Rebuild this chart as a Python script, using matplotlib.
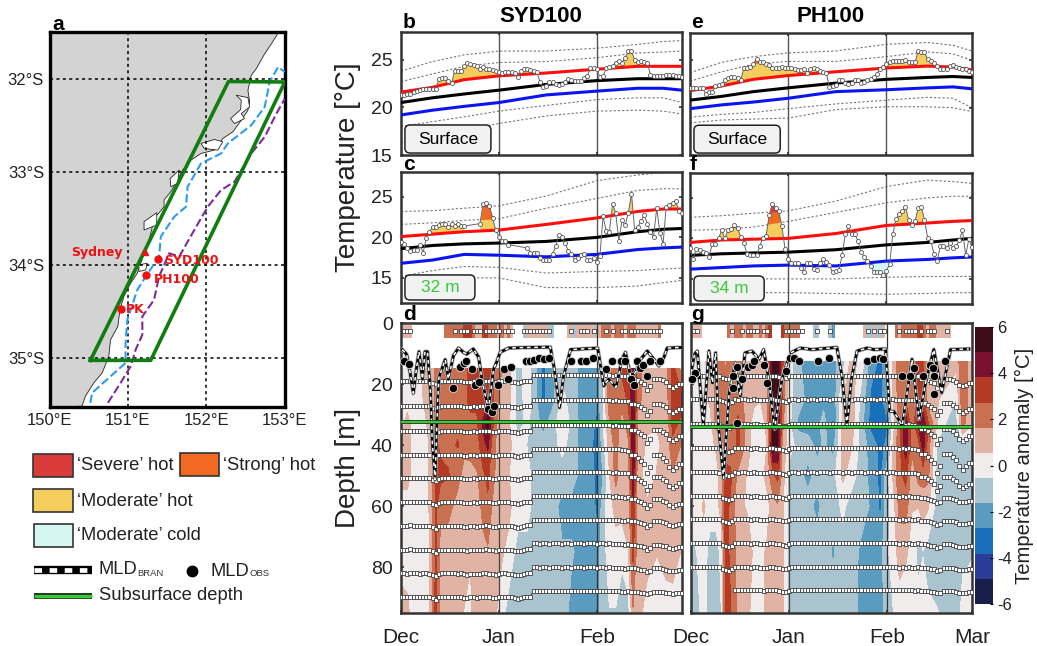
import numpy as np
import matplotlib
matplotlib.use('Agg')
from matplotlib import pyplot as plt
from matplotlib.colors import ListedColormap, BoundaryNorm
from matplotlib.cm import ScalarMappable
from matplotlib.patches import FancyBboxPatch, Rectangle

plt.rcParams['font.family'] = ['Liberation Sans', 'DejaVu Sans']

W, H = 1037, 646
n = np.nan
days = np.arange(90)

# map, lon / lat
coast_lon = [152.918,152.833,152.747,152.64,152.576,152.533,152.555,152.533,152.448,152.341,152.212,152.105,151.934,151.806,151.699,151.635,151.549,151.463,151.463,151.356,151.314,151.271,151.228,151.164,151.121,151.036,150.95,150.899,150.873,150.779,150.757,150.672,150.565,150.458,150.415]
coast_lat = [-31.512,-31.626,-31.733,-31.893,-31.964,-32.125,-32.25,-32.339,-32.446,-32.57,-32.642,-32.766,-32.802,-32.873,-32.98,-33.087,-33.212,-33.301,-33.373,-33.48,-33.586,-33.729,-33.836,-33.979,-34.086,-34.193,-34.335,-34.478,-34.656,-34.799,-34.977,-35.155,-35.262,-35.405,-35.512]
inlets = [
    ([152.383,152.533,152.555,152.448,152.49,152.362,152.311,152.44,152.448], [-32.178,-32.203,-32.303,-32.374,-32.428,-32.481,-32.428,-32.332,-32.232]),
    ([151.934,152.105,152.212,152.148,151.977], [-32.695,-32.652,-32.677,-32.766,-32.749]),
    ([151.207,151.369,151.369,151.207], [-33.533,-33.437,-33.569,-33.622]),
    ([151.54,151.656,151.635,151.549], [-33.07,-32.98,-33.123,-33.159]),
    ([151.142,151.249,151.228,151.142], [-33.996,-33.979,-34.05,-34.068]),
]
iso_blue_lon = [150.522,150.543,150.779,150.971,150.971,150.993,151.121,151.228,151.399,151.421,151.592,151.742,151.763,151.934,152.191,152.276,152.576,152.747,152.811,152.918,153.004]
iso_blue_lat = [-35.476,-35.369,-35.191,-35.048,-34.834,-34.585,-34.264,-34.121,-33.907,-33.693,-33.48,-33.373,-33.159,-32.909,-32.802,-32.695,-32.499,-32.303,-32.036,-31.875,-31.929]
iso_purple_lon = [150.745,150.907,151.036,151.1,151.185,151.185,151.335,151.399,151.528,151.656,151.849,152.02,152.191,152.362,152.576,152.747,152.897,153.004]
iso_purple_lat = [-35.476,-35.262,-35.084,-34.905,-34.745,-34.549,-34.371,-34.121,-33.872,-33.907,-33.622,-33.373,-33.194,-33.105,-32.802,-32.624,-32.374,-32.214]
box_lon = [150.522,151.292,153.004,152.285,150.522]
box_lat = [-35.02,-35.02,-32.036,-32.03,-35.02]

# time series: knot days for climatology and threshold curves
knots = [0,10,20,31,46,62,75,83,89]

red_b = [21.6,22.1,22.9,23.3,23.6,24.0,24.3,24.3,24.3]
black_b = [20.5,21.0,21.4,21.8,22.4,22.8,23.0,23.0,23.0]
blue_b = [19.2,19.7,20.1,20.5,21.3,21.7,22.0,22.0,21.8]
upper_b = [[22.7,23.5,24.3,24.7,24.8,25.2,25.7,25.8,25.9], [23.8,24.8,25.5,25.9,25.9,26.2,26.6,26.9,27.0]]
lower_b = [[18.0,18.5,19.0,19.6,20.2,20.8,21.0,21.0,20.5], [16.3,17.0,17.6,18.3,19.1,19.6,19.7,19.6,19.3]]
obs_b = [21.3,21.3,21.4,21.4,21.6,21.7,21.8,21.9,21.9,21.9,
         21.9,21.9,23.0,23.1,23.1,22.8,22.5,23.8,23.8,23.8,
         24.3,24.6,24.5,24.4,24.3,24.0,24.2,24.0,24.0,23.9,
         23.8,23.7,23.6,23.7,23.7,23.7,23.6,23.2,23.8,24.0,
         24.0,23.9,23.8,23.7,22.7,22.1,22.2,22.7,22.7,22.4,
         22.3,22.4,22.7,23.0,22.9,22.8,22.8,22.8,23.1,23.3,
         24.1,24.1,24.0,23.2,23.3,24.1,24.2,24.3,24.7,24.9,
         24.7,25.2,25.9,25.9,25.0,24.8,24.9,24.8,24.7,23.4,
         23.3,23.3,23.3,23.3,23.4,23.4,23.4,23.3,23.3,23.2]

red_c = [20.1,20.4,20.7,20.9,21.6,22.4,23.2,23.5,23.5]
black_c = [18.6,19.0,19.2,19.3,19.5,20.0,20.7,21.0,21.1]
blue_c = [16.8,17.2,17.9,17.8,17.6,17.9,18.5,18.7,18.8]
upper_c = [[21.6,21.8,22.1,22.3,23.6,24.8,25.8,26.0,26.0], [23.2,23.3,23.6,23.9,25.1,27.0,27.7,28.0,28.0]]
lower_c = [[15.2,15.9,16.4,16.3,15.6,15.8,15.9,16.1,16.2], [15.0,15.0,15.0,15.0,13.8,13.8,14.0,14.4,14.7]]
obs_c = [19.4,19.2,18.7,18.3,18.4,18.5,19.1,18.1,19.9,20.7,
         21.3,21.3,21.5,21.6,21.6,21.3,21.6,21.4,21.6,21.4,
         21.4,n,n,n,n,21.7,24.1,24.2,23.9,22.4,
         20.9,20.1,19.5,19.6,19.1,n,n,n,n,n,
         18.7,18.1,18.1,18.1,17.4,17.2,17.2,17.2,17.9,18.9,
         20.3,20.1,19.3,18.3,17.9,17.2,17.5,17.8,17.9,17.2,
         17.2,17.5,17.0,17.7,22.6,20.8,20.7,24.1,23.0,19.6,
         22.1,21.5,23.0,25.4,20.9,21.3,22.0,22.8,21.7,20.7,
         20.1,23.6,20.6,19.2,23.8,24.0,24.3,24.5,23.2,23.0]

red_e = [21.8,22.3,23.0,23.4,23.8,24.2,24.4,24.3,24.0]
black_e = [20.8,21.2,21.7,22.1,22.6,23.0,23.2,23.3,23.2]
blue_e = [19.9,20.3,20.6,21.0,21.7,21.9,22.1,22.2,22.0]
upper_e = [[22.8,23.8,24.6,24.9,24.9,25.4,25.9,25.7,25.0], [23.7,24.8,25.4,25.8,26.0,26.7,26.9,26.6,26.0]]
lower_e = [[19.0,19.3,19.5,19.9,20.4,20.8,21.1,21.0,20.0], [18.4,18.7,18.8,18.9,19.8,20.1,20.1,20.0,19.6]]
obs_e = [22.1,22.1,22.1,22.1,22.1,21.4,21.7,21.7,22.3,22.4,
         22.5,22.9,23.1,23.3,23.2,23.1,22.9,24.2,24.2,24.3,
         24.6,25.2,24.8,24.8,24.6,24.5,24.2,24.2,24.2,24.3,
         24.2,24.2,24.2,24.1,24.0,24.0,24.1,23.7,24.1,24.2,
         24.1,23.9,23.8,23.7,22.2,22.3,22.4,22.9,22.9,22.6,
         22.5,22.6,22.9,22.9,22.6,22.7,22.9,23.0,23.2,23.6,
         24.1,24.3,24.6,24.8,24.9,24.9,24.9,24.9,25.0,24.8,
         24.8,24.8,26.0,25.9,25.9,25.1,24.9,24.7,24.4,24.1,
         24.1,24.1,24.4,24.5,24.3,24.2,24.1,24.1,23.9,23.8]

red_f = [19.5,19.8,19.9,20.0,20.6,21.6,21.9,22.1,22.2]
black_f = [17.9,18.1,18.2,18.3,18.6,19.2,19.5,19.8,20.0]
blue_f = [16.2,16.4,16.6,16.7,16.6,17.2,17.4,17.6,17.7]
upper_f = [[21.0,21.1,21.4,22.1,23.2,24.4,25.0,25.2,25.2], [22.6,22.8,23.1,23.4,24.6,26.4,27.2,27.0,26.8]]
lower_f = [[15.1,15.1,15.0,15.0,15.0,15.2,15.3,15.3,15.3], [13.4,13.3,13.3,13.3,13.2,13.1,13.2,13.3,13.3]]
obs_f = [18.8,17.4,18.7,18.6,18.3,18.2,17.7,19.3,19.3,20.0,
         21.0,20.0,21.0,21.1,21.6,21.3,20.2,19.4,18.1,18.0,
         18.0,17.9,19.0,20.1,20.3,22.9,24.3,23.7,23.4,21.5,
         18.7,17.5,17.0,17.0,16.9,16.3,15.8,17.0,17.0,16.2,
         16.1,16.9,17.4,17.1,16.7,15.8,16.0,16.1,17.9,20.5,
         21.5,20.6,20.5,19.7,18.3,17.7,17.2,16.6,15.9,15.9,
         15.8,15.5,16.0,16.8,20.5,22.4,23.0,23.4,23.9,22.3,
         21.6,22.1,23.7,23.9,22.3,20.1,19.7,18.1,17.2,19.0,
         19.1,18.8,19.4,18.8,19.0,19.8,21.0,17.9,19.9,18.9]
cold_f = (56, 64)

# depth sections
anom_days = [0,2,4,6,8,9.5,11,12.5,15,18,20,22,24,26,27.5,29,31,34,37,40,42,45,48,51,54,57,60,62,64,66,68,70,72,73.5,75,78,81,84,86,89]
anom_d = np.array([
    [0,0,0,1,1,0,0,1],[0,0,1,1,1,0,0,0.8],[0,0,0,0,0,0,0,0],[0.3,0.3,0,0,0,0,0,0],
    [1,0.8,0.5,0,0,0,0,0],[1,1,1,1,1,1,0.7,0.7],[2,2,2,3,3,3,3,3.2],[2,2,2.2,2.5,3,2,1.2,1.2],
    [2,2,2.2,2.5,2.8,2,1,1],[2.2,2.2,2.5,2.8,2,1.2,1,1],[2.5,2.5,2,2,1.2,1,1,0.5],[3,3,2.5,2.2,1.1,1,0.6,0.4],
    [3,3,2.5,2.2,1.5,1,1,1],[3,3,4,3.5,2.5,2,1.3,1],[3.5,3.5,5.5,4,3,2.5,1.5,1],[3,3,3,2.2,2,1.5,1,1],
    [2,1.5,1,1,1,1,0.8,0.3],[1,1,0.8,0.8,0.6,0.8,0.3,-1],[-1,-1.2,-1,0,0,0,-1,-1],[0,0,-0.3,-0.6,0,0,-1,-1],
    [-1,-1,-1,-1,-1,-1,-1,-1],[-3,-3,-2,-1.2,-1,-1,-1,-1],[-2,-2,-1.1,-1,-1,-1.2,-1,-1],[-1,-0.2,0.3,-0.2,-1.1,-2,-1.5,-1],
    [-1,-1,-0.8,-1,-1.1,-2,-1.5,-2],[-2,-2,-2,-2,-2,-2,-2,-2],[-2,-2,-2.2,-2.5,-2,-2,-2,-2],[-2,-2.5,-3,-3.2,-3.2,-3,-2.2,-2.2],
    [-1,-0.7,-0.5,-1,-1.5,-1,-1,-1],[2.5,2.5,1.5,1,0.5,0,0,-0.6],[2.5,2.4,2.2,2,2,1,0,-0.6],[3,2,1.2,1,1,1,-0.3,-1.1],
    [3,3,2,1.5,1.2,1,0.5,-1],[4.5,4.5,4.5,4.5,4.5,3.5,3,1.5],[2,2,1.2,1.3,1,1.2,1,1],[1.2,1,0.8,0.3,0,0.7,1,0],
    [1,1,0.6,0.4,0.6,1,0.6,-0.3],[1.2,1.1,0.6,0.8,1,1,1,0],[3.2,3,3,2.5,1.5,1,0.8,0.3],[1,3,2.5,1.5,1,1,0.5,0]]).T
anom_g = np.array([
    [0,0,0,0,0,0,-1,-1],[0,0,0,0,0,0,-0.5,-0.8],[0.3,0,0,0,0,0.7,0,-0.2],[1,0.8,0,0,0,0,-1,-1],
    [2,2,2,0.8,0,0,-1,-1],[2,2,2,1.2,1,1,-0.3,-0.6],[1.5,2,2,2,3.2,3.2,3.2,3.2],[2,2,2,2,3,2.5,2.5,2.8],
    [2.2,2.2,3,3,1.2,0.8,1.2,1.2],[1,1,1,1,0.4,0.4,1.1,0.8],[1,0.8,0,0,0,0,0.3,0],[1,0.6,0,0,0,0,0.2,0],
    [2,1.1,0.8,0.5,1,0,0.7,0.8],[5.5,5,5,5.5,2.5,1.2,1,1],[5.5,5,5,5,3,1.5,1,1],[3,2.5,2,1.2,1.1,0.8,0.8,0.7],
    [0,-0.3,-0.2,0,-1,-1,-1,-1],[-1.5,-1,-2,-1,-1.2,-1,-1,-1],[-2,-2,-2.2,-1.1,-2,-1.2,-1,-1],[-2,-2,-2,-2,-1.2,-2,-1,-1],
    [-2,-2,-1.2,-1.5,-1,-1.2,-1,-1],[-2,-2.5,-3,-2,-1,-1.2,-1.8,-1],[-1.1,0.5,0.8,0.8,0.8,-0.3,-1,-1],[1,1,1,0.6,-0.2,-1,-1,-1.1],
    [0,-1,-1.2,-1.2,-1,-1,-2,-2],[-2.2,-3,-3.2,-2,-2,-1.8,-2,-2.2],[-3,-3.2,-3.2,-3.2,-3,-3,-2,-2.2],[-2,-2,-3,-2.5,-1.1,-1,-0.8,-1.1],
    [1,0.6,0,0.6,0.7,0,0,-0.6],[2.2,2.2,2.2,2.5,2.5,2,1,0],[2.2,2.5,4.5,4.5,3,2.2,0.7,0],[2,2,2,2,1,0.6,0.2,0],
    [3,3,4,2.2,2,0.6,-1,0],[3,3,4.5,4.5,2,1.1,-0.6,0],[1,1,3,2.2,2,0.7,-1,-0.3],[0.8,0.6,0.5,-0.8,-1,-1,-1,-0.5],
    [1,0.3,-0.7,-1,-1,-0.8,-1,-0.8],[1,-0.6,-1,-1,-1,-1,-1,-1],[2.5,2.5,2,-1,-1,-1,-0.7,-0.3],[1,1,0.6,-1,-1,-1,-0.6,-0.2]]).T
depths_d = [14.8,25,33,40,50,60,75,95]
depths_g = [12.5,25,33,40,50,60,75,95]

surf_d = [1,1,1,1]+[n]*10+[2]*6+[3,3,3,2,1,1,3,3,2,2,2,1,2,1,2,1,n,n,n,-1]+[1]*7+[-1,-1]+[n]*4+[.7,.7,-1,.7,.7,1,.7,.7,1,-1,.7,2,2,2,1,2,2,2,1,2,2,2,1,1,1,1,1,1,1,2]+[n]*7
surf_g = [.7,.7,.7,1]+[n]*8+[2,1,2,2,2,1,2,2,1,1,2,1,2,3,n,n,n,3,2,2,2,2,2,n,n,n,n,-1,-1,n,n,n,-1,-2]+[n]*9+[.7,-1,-1,.7,-1,-1,.7,n,n,n,2,1,2,2,2,2,2,3,3,2,1,2,2,1,1,1,1,1]+[n]*7
surf_obs_d = [1,2,3,17,19,20,21,23,24,25,27,28,29,30,31,33,34,35,39,40,41,42,43,44,45,46,47,54,57,58,59,61,65,67,70,71,73,74,75,76,77,78,79,80,81,82]
surf_obs_g = [1,2,13,16,18,19,20,21,23,24,30,31,32,33,34,35,40,44,56,58,60,61,66,68,69,70,71,73,75,76,77,81]

# model levels with squares, and how they shift through the season
levels_d = [17,25.2,33.4,41.2,48.8,56.7,64.4,72.2,80,87.7]
amp_d = [1.2,1.2,1.5,2,1.5,1,0.6,0.5,0.4,0.3]
shift_d = [2,2,2.1,1.9,2,2,2.1,2,2,2.1,2.5,3,2.2,2,2,2,2,2,2.1,2,2.3,2.4,2.2,2.1,2.3,2.1,2,1.9,2.1,2.3,2.4,2.1,2,2,2.1,2.2,2.4,2.6,2.4,2.1,1.9,1.9,
           0,0,.1,0,0,.1,0,0,0,.1,0,0,.1,0,0,0,.1,0,0,0,.1,0,0,.1,0,.2,.1,.2,.3,.5]+[0]*18
levels_g = [17.2,25,33.1,41,48.9,56.7,64.2,72.1,79.9,87.4]
amp_g = [1,1.3,1.6,2,1.5,0.6,0.5,0.4,0.3,0.3]
shift_g = [0,0,0,0,0,0,0,0,0,.1,.7,1,1.2,.8,0,.1,0,0,.1,.2,0,.1,.2,.3,.2,0,0,.2,.4,.6,.8,.3,0,0,.1,0,0,.1,0,0,.1,0,0,0,.1,0,0,0,.1,0,0,.1,0,0,0,.1,0,0,0,.1,0,0,.1,0,0,.1,.2,.1,.2,.1,.2,.3]+[0]*18
late = [0]*72+[.3,1,1,1.5,2,2.5,4,3,1,1,1,1.5,2,3,3.5,3,2.5,2.5]

# mixed layer depth
mld_d_day = [0.4,1.8,2.9,3.9,5,5.7,6.8,7.6,8.4,9.4,9.9,10.8,11.6,12,14,15,16.6,18.2,19.8,20.8,22.9,24.6,25.8,27.7,29.3,30.4,31.4,34.1,40.4,47.3,48.4,50.2,51.5,53.7,57.4,62.3,63.2,64.2,65.8,68.1,70,71.1,72.7,74.3,75.9,78,80.1,81.7,83.3,84.3,89.1]
mld_d_dep = [8.7,10.3,16.3,23,14.1,9.4,18.4,9.4,9.4,23.9,39,51.4,26,17.9,12,18.4,10.7,8.2,9.6,10.2,8.5,11.2,19.6,28.2,15.2,12.5,9.6,8.2,8,7.9,14.1,27.7,17.3,8.7,8.5,8.2,14.1,20.6,18.4,21.1,11.9,9.6,17.3,16.2,11.9,9.2,11.9,14.1,11.2,8.2,8]
mld_g_day = [0,1.1,2,3.9,5.7,6.8,7.8,8.7,10.3,11.3,12.1,14,15.6,17.1,19.3,21.6,23,24.6,26.5,28.8,30.4,31.9,34.6,38.3,46.2,47.8,49.4,50.8,52.6,55.8,57.9,61.6,62.9,64.2,66.9,70,72.2,74.3,76.9,79.4,82.2,88]
mld_g_dep = [16.3,10.3,9.2,33.6,9.2,19.6,9.8,33.6,50.9,34.7,22.8,13,23.9,9.8,9.2,11.9,8.7,18.4,34.7,18.4,13,9.6,8.2,8.7,8,17.3,33.6,18.4,9.2,8.2,8.7,8.5,28.9,28.9,33.6,11.9,31.5,19.6,8.7,22.8,8.7,8.5]
dots_d_day = [1.1,2.5,16.6,18.7,19.8,20.6,22.6,23.5,24.8,27.5,28.8,29.6,30.7,32.7,33.8,34.8,39.6,41,42.2,43.6,45.2,46.8,53.9,57.1,58.6,60.7,64.8,66.9,69.7,70.9,72.8,73.8,74.8,75.7,76.6,78,78.8,81.9]
dots_d_dep = [12.3,13.4,21.2,14.4,13.1,12.5,15.2,20.3,19.4,28.2,29.3,27.1,20.3,15.2,18.3,14.4,12.5,12.3,12,11.5,11.8,11.5,12.3,12.3,12.3,11.5,15.2,12.3,12.3,12.3,18.3,20.3,12.3,14.7,13.6,17.4,12.3,12.3]
dots_g_day = [1.3,0.4,14.5,13.4,16.1,13.2,14.7,18.2,19.3,20.1,23.2,24.2,30.1,31.4,32.5,34.1,40.1,43.8,55.8,57.9,60,60.8,66.9,69.5,70.6,73.5,75.7,76.7,76.9,77.1,80.6]
dots_g_dep = [16.5,18.5,14.4,17.4,18.5,21.4,32.6,14.4,13.6,12.5,13.6,19.6,15.6,11.5,11.5,12.5,12.5,11.5,12.5,11.7,11.5,11.7,17.4,17.4,14.7,17.4,13.6,14.7,17.4,23.4,12.5]
sub_depth_d = 32.3
sub_depth_g = 34

anom_levels = np.linspace(-6, 6, 12)
anom_colors = ['#1a1e4a','#2a3c96','#1a6fbb','#5a9cbf','#a9c4cf','#efeceb','#e0b3a4','#c97050','#b53a24','#7a1030','#3f0d19']
C_SEVERE, C_STRONG, C_MOD, C_COLD = '#d93a3a', '#f26a21', '#f5cd5d', '#d5f7f2'
GREEN = '#33cc33'
EDGE = '#333333'


def px_axes(fig, left, top, right, bottom):
    return fig.add_axes([left/W, 1-bottom/H, (right-left)/W, (bottom-top)/H])


def time_panel(ax, red, black, blue, upper, lower, obs, ylim, label, label_color, box, left_labels, cold=None):
    obs = np.array(obs, dtype=float)
    red_i = np.interp(days, knots, red)
    blue_i = np.interp(days, knots, blue)
    ok = np.isfinite(obs)
    ax.fill_between(days, red_i, obs, where=ok & (obs >= red_i), interpolate=True, color=C_MOD, lw=0, zorder=2)
    for curve, col in zip(upper, [C_STRONG, C_SEVERE]):
        cur = np.interp(days, knots, curve)
        ax.fill_between(days, cur, obs, where=ok & (obs >= cur), interpolate=True, color=col, lw=0, zorder=2)
    if cold is not None:
        m = (days >= cold[0]) & (days <= cold[1])
        ax.fill_between(days[m], blue_i[m], obs[m], where=obs[m] <= blue_i[m], interpolate=True, color=C_COLD, lw=0, zorder=2)
    for curve in upper + lower:
        ax.plot(knots, curve, color='#777777', lw=0.8, ls=(0, (2, 1.8)), zorder=1)
    ax.plot(knots, red, color='#ff0d0d', lw=2.2, zorder=3)
    ax.plot(knots, black, color='k', lw=2.2, zorder=3)
    ax.plot(knots, blue, color='#0a14f0', lw=2.2, zorder=3)
    ax.plot(days[ok], obs[ok], color='#666666', lw=0.7, zorder=4)
    ax.plot(days, obs, ls='none', marker='o', ms=2.9, mfc='white', mec='#555555', mew=0.6, zorder=5)
    ax.axvline(31, color='#555555', lw=1, zorder=1)
    ax.axvline(62, color='#555555', lw=1, zorder=1)
    ax.set_xlim(0, 89)
    ax.set_ylim(*ylim)
    ax.set_xticks([31, 62])
    ax.set_xticklabels([])
    ax.set_yticks([15, 20, 25])
    ax.tick_params(axis='both', direction='in', length=2.5, width=1.2, top=True, right=True, color=EDGE)
    ax.tick_params(axis='y', labelsize=14, pad=6, labelleft=left_labels, labelcolor='#222222')
    for s in ax.spines.values():
        s.set_linewidth(1.8)
        s.set_color(EDGE)
    x0, y0, w, h = box
    size = ax.get_position().width*W/(ax.get_position().height*H)
    ax.add_patch(FancyBboxPatch((x0, y0), w, h, boxstyle='round,pad=0,rounding_size=0.018', mutation_aspect=size,
                                transform=ax.transAxes, fc='#f2f2f2', ec='#222222', lw=1.1, zorder=6))
    ax.text(x0+w/2, y0+h/2, label, transform=ax.transAxes, ha='center', va='center', fontsize=12.5, color=label_color, zorder=7)


def depth_panel(ax, depths, anom, surf, surf_obs, levels, amp, shift, last_start, mld_day, mld_dep, dot_day, dot_dep, sub_depth, labels, ticks, left_labels):
    ax.contourf(anom_days, depths, anom, levels=anom_levels, colors=anom_colors, zorder=1)
    edges = np.arange(91)-0.5
    mesh = np.ma.masked_invalid([surf])
    ax.pcolormesh(edges, [0.5, 5], mesh, cmap=ListedColormap(anom_colors), norm=BoundaryNorm(anom_levels, 11), zorder=1)
    ax.plot(surf_obs, [2.5]*len(surf_obs), ls='none', marker='s', ms=2.5, mfc='white', mec='#333333', mew=0.55, zorder=3)
    ax.axvline(31, color='#444444', lw=0.9, zorder=2)
    ax.axvline(62, color='#333333', lw=0.9, zorder=2)
    shift = np.array(shift, dtype=float)
    wig = np.array(late, dtype=float)
    for i, lev in enumerate(levels):
        y = lev + shift + amp[i]*wig
        if i == len(levels)-1:
            y[:last_start] = n
        early = days <= 71
        if i >= 6:
            early = days <= 89
        ax.plot(days[early], y[early], color='#333333', lw=0.7, zorder=3)
        ax.plot(days, y, ls='none', marker='s', ms=2.5, mfc='white', mec='#333333', mew=0.55, zorder=3)
    ax.plot(mld_day, mld_dep, color='#aaaaaa', lw=3, zorder=4)
    ax.plot(mld_day, mld_dep, color='k', lw=1.9, zorder=4)
    ax.plot(mld_day, mld_dep, color='white', lw=1.1, ls=(0, (2.4, 2.4)), zorder=4)
    ax.plot(dot_day, dot_dep, ls='none', marker='o', ms=6, mfc='k', mec='#dddddd', mew=0.6, zorder=5, clip_on=False)
    ax.axhline(sub_depth, color='#222222', lw=2.8, zorder=4)
    ax.axhline(sub_depth, color=GREEN, lw=1.7, zorder=4)
    ax.set_xlim(0, 89)
    ax.set_ylim(95, 0.5)
    ax.set_xticks(ticks)
    ax.set_xticklabels(labels, fontsize=15, color='#222222')
    ax.set_yticks([0, 20, 40, 60, 80])
    ax.tick_params(axis='both', direction='in', length=2.5, width=1.2, color=EDGE)
    ax.tick_params(axis='x', pad=10.5)
    ax.tick_params(axis='y', labelsize=14, pad=6, labelleft=left_labels, labelcolor='#222222')
    for s in ax.spines.values():
        s.set_linewidth(1.8)
        s.set_color(EDGE)


fig = plt.figure(figsize=(W/100, H/100), dpi=100, facecolor='white')

# a: map
ax = px_axes(fig, 49.5, 32, 284.5, 407)
ax.fill(coast_lon+[150, 150], coast_lat+[-35.52, -31.5], fc='#d3d3d3', ec='#222222', lw=0.6, zorder=1)
for lon, lat in inlets:
    ax.fill(lon, lat, fc='white', ec='#222222', lw=0.6, zorder=1)
ax.plot(iso_blue_lon, iso_blue_lat, color='#2f9bf0', lw=1.5, ls=(0, (4, 1.6)), zorder=3)
ax.plot(iso_purple_lon, iso_purple_lat, color='#7b2d9e', lw=1.5, ls=(0, (4, 1.6)), zorder=3)
ax.plot(box_lon, box_lat, color='#0f7d0f', lw=2.6, zorder=4)
ax.plot([151.39, 151.237, 150.916], [-33.93, -34.11, -34.467], ls='none', marker='o', ms=5, color='#ee1111', zorder=5)
ax.plot([151.215], [-33.861], ls='none', marker='^', ms=5, color='#ee1111', zorder=5)
for lon, lat, name in [(150.27, -33.86, 'Sydney'), (151.46, -33.95, 'SYD100'), (151.33, -34.15, 'PH100'), (150.97, -34.48, 'PK')]:
    ax.text(lon, lat, name, color='#ee1111', fontsize=9, fontweight='bold', family='DejaVu Sans', va='center', zorder=6)
ax.set_xlim(150, 153)
ax.set_ylim(-35.52, -31.5)
ax.set_xticks([150, 151, 152, 153])
ax.set_xticklabels(['150°E', '151°E', '152°E', '153°E'], fontsize=12, color='#222222')
ax.set_yticks([-35, -34, -33, -32])
ax.set_yticklabels(['35°S', '34°S', '33°S', '32°S'], fontsize=12, color='#222222')
ax.grid(True, color='k', lw=1.1, ls=(0, (2, 2.2)), zorder=2)
ax.set_axisbelow(False)
ax.tick_params(length=0, pad=4)
for s in ax.spines.values():
    s.set_linewidth(2.4)

# b, c, e, f
box_top = (0.014, 0.016, 0.306, 0.228)
box_sub = (0.014, 0.023, 0.249, 0.191)
time_panel(px_axes(fig, 401, 32, 682, 155), red_b, black_b, blue_b, upper_b, lower_b, obs_b, (15.2, 27.9), 'Surface', 'k', box_top, True)
time_panel(px_axes(fig, 401, 172, 682, 303), red_c, black_c, blue_c, upper_c, lower_c, obs_c, (11.9, 28.07), '32 m', GREEN, box_sub, True)
time_panel(px_axes(fig, 690, 33, 972, 155), red_e, black_e, blue_e, upper_e, lower_e, obs_e, (15.2, 27.9), 'Surface', 'k', box_top, False)
time_panel(px_axes(fig, 690, 173, 972, 304), red_f, black_f, blue_f, upper_f, lower_f, obs_f, (11.9, 28.07), '34 m', GREEN, box_sub, False, cold=cold_f)

# d, g
depth_panel(px_axes(fig, 401, 323, 682, 613), depths_d, anom_d, surf_d, surf_obs_d, levels_d, amp_d, shift_d, 0,
            mld_d_day, mld_d_dep, dots_d_day, dots_d_dep, sub_depth_d, ['Dec', 'Jan', 'Feb'], [0, 31, 62], True)
depth_panel(px_axes(fig, 691, 323, 972, 613), depths_g, anom_g, surf_g, surf_obs_g, levels_g, amp_g, shift_g, 14,
            mld_g_day, mld_g_dep, dots_g_day, dots_g_dep, sub_depth_g, ['Dec', 'Jan', 'Feb', 'Mar'], [0, 31, 62, 89], False)

# colour bar
cax = px_axes(fig, 975, 327, 993, 604)
cb = fig.colorbar(ScalarMappable(norm=BoundaryNorm(anom_levels, 11), cmap=ListedColormap(anom_colors)), cax=cax, spacing='proportional')
cb.set_ticks([-6, -4, -2, 0, 2, 4, 6])
cb.set_ticklabels(['-6', '-4', '-2', '0', '2', '4', '6'])
cb.minorticks_off()
cb.ax.tick_params(labelsize=12, length=2, width=0.8, pad=3, direction='in', labelcolor='#222222')
cb.outline.set_visible(False)

# figure level text and legend, in a full size overlay
ov = fig.add_axes([0, 0, 1, 1], facecolor='none')
ov.set_xlim(0, W)
ov.set_ylim(H, 0)
ov.axis('off')
for x, y, s in [(58, 24, 'a'), (409, 22, 'b'), (409, 165, 'c'), (409, 314, 'd'), (697, 22, 'e'), (693, 165, 'f'), (697, 314, 'g')]:
    ov.text(x, y, s, fontsize=15, fontweight='bold', ha='center', va='center')
ov.text(541, 16, 'SYD100', fontsize=16, fontweight='bold', ha='center', va='center')
ov.text(831, 16, 'PH100', fontsize=16, fontweight='bold', ha='center', va='center')
ov.text(348, 167, 'Temperature [°C]', fontsize=20, rotation=90, ha='center', va='center', color='#222222')
ov.text(348, 468, 'Depth [m]', fontsize=20, rotation=90, ha='center', va='center', color='#222222')
ov.text(1024, 466, 'Temperature anomaly [°C]', fontsize=14.6, rotation=90, ha='center', va='center', color='#222222')

for x, y, w, h, col in [(33, 454, 40, 23, C_SEVERE), (180, 453, 39, 23, C_STRONG), (33, 489, 40, 23, C_MOD), (34, 524, 39, 23, C_COLD)]:
    ov.add_patch(Rectangle((x, y), w, h, fc=col, ec='#333333', lw=1.2))
for x, y, s in [(77, 465, '‘Severe’ hot'), (223, 466, '‘Strong’ hot'), (77, 502, '‘Moderate’ hot'), (77, 535, '‘Moderate’ cold'),
                (98, 570, 'MLD'), (211, 571, 'MLD'), (99, 596, 'Subsurface depth')]:
    ov.text(x, y, s, fontsize=13.2, va='center', color='#222222')
ov.text(137, 573, 'BRAN', fontsize=6.8, va='center', color='#333333')
ov.text(250, 574, 'OBS', fontsize=6.8, va='center', color='#333333')
ov.plot([34, 92], [570, 570], color='k', lw=6, solid_capstyle='butt')
ov.plot([34, 92], [570, 570], color='white', lw=3.4, ls=(0, (1.6, 1.6)))
ov.plot([192], [571], marker='o', ms=7.5, color='k')
ov.plot([34, 92], [596, 596], color='#222222', lw=4.2, solid_capstyle='butt')
ov.plot([34, 92], [596, 596], color=GREEN, lw=2.4, solid_capstyle='butt')

fig.savefig('out.png', dpi=100)
